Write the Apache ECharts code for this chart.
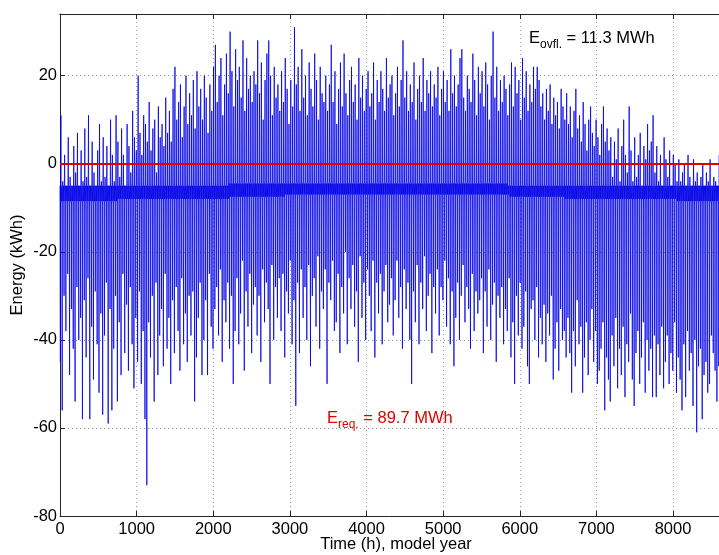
<!DOCTYPE html>
<html>
<head>
<meta charset="utf-8">
<script src="https://cdn.jsdelivr.net/npm/echarts@6/dist/echarts.min.js"></script>
<style>
html,body{margin:0;padding:0;background:#fff;}
#c{width:719px;height:555px;}
</style>
</head>
<body>
<div id="c"></div>
<script>
// ---- data ----
// x-axis ticks (h) and y-axis ticks (kWh)
const xTicks = [0,1000,2000,3000,4000,5000,6000,7000,8000];
const yTicks = [-80,-60,-40,-20,0,20];
// daily peak of surplus (upward spike), one value per day, kWh
const upPeaks = [
 11,-4,2,-5,6,-3,-5,4,-2,7,-5,3,
 -4,8,-3,11,-5,5,-2,-5,3,9,-4,6,
 -3,4,-5,10,2,-4,11,5,-3,8,2,-5,
 9,4,-2,12,6,3,20,7,2,11,9,5,
 14,3,8,10,-2,13,6,9,4,15,7,12,
 5,17,22,10,14,18,6,13,20,9,16,11,
 19,8,21,13,17,10,20,15,7,18,12,22,
 27,14,20,24,11,18,25,16,30,21,13,26,
 19,22,15,28,12,24,17,20,14,21,18,28,
 16,23,10,19,25,28,20,11,22,15,18,12,
 21,14,24,17,9,19,13,31,18,22,12,26,
 15,20,11,23,17,13,25,19,10,22,16,14,
 20,12,18,27,14,21,9,17,23,13,25,16,
 11,19,22,14,18,10,24,15,20,12,17,21,
 13,16,23,10,19,14,21,17,12,24,15,18,
 20,11,16,22,13,19,28,15,21,12,18,14,
 23,10,17,20,14,24,12,19,16,21,13,18,
 15,22,11,17,21,14,19,12,26,16,20,13,
 18,24,26,15,12,20,17,14,25,19,11,22,
 16,21,13,23,18,10,20,30,15,22,12,19,
 14,20,17,11,18,23,13,22,16,19,10,24,
 15,21,12,18,14,22,17,22,19,13,16,10,
 17,12,18,9,15,11,14,8,17,13,10,16,
 9,13,6,12,17,8,11,5,14,9,3,10,
 13,7,4,10,6,2,9,13,5,8,3,6,
 -3,5,1,8,-4,4,10,2,-2,13,3,-4,
 6,-3,2,7,-5,4,1,9,3,5,11,-2,
 4,-4,2,-5,6,1,-3,3,-5,2,0,-4,
 1,-4,-2,0,-5,2,-3,-5,1,-4,-2,-5,
 -3,0,-5,-2,-4,1,-5,-3,-4,-5,2
];
// daily deepest deficit (downward spike), one value per day, kWh
const downPeaks = [
 -45,-56,-30,-38,-25,-48,-33,-42,-54,-28,-40,-35,
 -58,-31,-44,-26,-58,-37,-49,-29,-41,-52,-34,-57,
 -39,-27,-59,-33,-56,-42,-30,-54,-36,-48,-25,-43,
 -32,-47,-28,-41,-51,-35,-45,-29,-50,-38,-58,-73,
 -36,-44,-30,-54,-27,-48,-39,-33,-46,-25,-42,-35,
 -50,-31,-43,-28,-38,-47,-26,-41,-34,-45,-30,-39,
 -29,-54,-44,-35,-27,-48,-40,-31,-48,-25,-37,-42,
 -33,-28,-39,-24,-45,-31,-36,-27,-42,-30,-50,-38,
 -26,-41,-34,-22,-47,-29,-37,-25,-43,-32,-28,-39,
 -30,-45,-24,-36,-27,-33,-50,-23,-40,-28,-35,-26,
 -38,-25,-44,-29,-34,-22,-41,-31,-55,-27,-43,-24,
 -35,-28,-40,-23,-46,-30,-26,-37,-21,-42,-29,-33,
 -24,-50,-27,-31,-22,-38,-36,-25,-43,-28,-34,-20,
 -41,-26,-33,-23,-37,-29,-45,-21,-35,-27,-40,-24,
 -30,-38,-22,-44,-27,-34,-25,-41,-29,-23,-36,-32,
 -26,-39,-31,-22,-35,-28,-42,-24,-33,-27,-40,-50,
 -29,-36,-23,-41,-27,-33,-21,-38,-30,-25,-43,-28,
 -34,-24,-39,-28,-31,-22,-37,-26,-41,-29,-46,-35,
 -27,-40,-30,-23,-36,-28,-33,-42,-25,-38,-29,-34,
 -31,-26,-43,-29,-37,-24,-40,-32,-27,-45,-30,-35,
 -28,-41,-33,-38,-26,-44,-36,-50,-30,-39,-27,-42,
 -37,-29,-46,-50,-33,-31,-40,-28,-44,-35,-41,-32,
 -45,-34,-39,-30,-49,-42,-36,-47,-33,-40,-38,-44,
 -35,-43,-52,-38,-46,-31,-41,-37,-52,-44,-36,-48,
 -40,-33,-45,-38,-50,-47,-42,-36,-56,-44,-49,-54,
 -39,-46,-35,-51,-42,-48,-37,-53,-41,-45,-34,-49,
 -55,-43,-38,-50,-44,-36,-52,-40,-47,-42,-53,-39,
 -53,-41,-48,-37,-51,-45,-39,-50,-43,-47,-36,-52,
 -44,-49,-56,-41,-53,-38,-47,-43,-55,-40,-61,-46,
 -42,-58,-48,-45,-52,-50,-39,-43,-47,-54,-46
];
// monthly upper / lower edge of the dense base band, kWh
const bandTop = [-5,-5,-5,-4.5,-4.5,-4.5,-4.5,-4.5,-5,-5,-5,-5,-5];
const bandBottom = [-8.5,-8,-8,-7.5,-7,-7,-7,-7,-7.5,-8,-8,-8.5,-8.5];
// hours of the day at which the daily profile is sampled, and which value they carry
const dayHours = [0,5,7,12,14,18];
const dayKinds = ['top','down','bottom','up','top','bottom'];
const refLevel = 0;            // red reference line
const hoursPerDay = 24, hoursPerMonth = 730;
const xMax = 8600, yMin = -80, yMax = 34;

// ---- build the hourly series from the arrays ----
const energy = [];
for (let d = 0; d < upPeaks.length; d++) {
  const h0 = d * hoursPerDay;
  const m = Math.floor(h0 / hoursPerMonth);
  for (let k = 0; k < dayHours.length; k++) {
    let v;
    switch (dayKinds[k]) {
      case 'top': v = bandTop[m]; break;
      case 'bottom': v = bandBottom[m]; break;
      case 'down': v = downPeaks[d]; break;
      case 'up': v = upPeaks[d]; break;
    }
    energy.push([h0 + dayHours[k], v]);
  }
}

const axisColor = '#262626';
const font = 'Liberation Sans, Arial, sans-serif';
const chart = echarts.init(document.getElementById('c'), null, {renderer: 'canvas'});
chart.setOption({
  animation: false,
  backgroundColor: '#fff',
  grid: {left: 60, right: 0, top: 14, bottom: 39, containLabel: false, outerBoundsMode: 'none'},
  xAxis: [{
    type: 'value', min: xTicks[0], max: xMax, interval: 1000,
    name: 'Time (h), model year', nameLocation: 'middle', nameGap: 20, nameMoveOverlap: false,
    nameTextStyle: {fontFamily: font, fontSize: 16.5, color: '#000', padding: [0,0,0,13]},
    axisLine: {show: true, onZero: false, lineStyle: {color: axisColor, width: 1}},
    axisTick: {show: true, inside: true, length: 5, lineStyle: {color: axisColor}},
    axisLabel: {fontFamily: font, fontSize: 16.5, color: '#000', margin: 5, showMaxLabel: false,
      formatter: v => xTicks.includes(v) ? String(v) : ''},
    splitLine: {show: true, lineStyle: {color: '#9a9a9a', type: [1, 3], width: 1}}
  }, {
    type: 'value', position: 'top', min: xTicks[0], max: xMax, interval: 1000,
    axisLine: {show: true, onZero: false, lineStyle: {color: axisColor, width: 1}},
    axisTick: {show: true, inside: true, length: 5, lineStyle: {color: axisColor}},
    axisLabel: {show: false}, splitLine: {show: false}
  }],
  yAxis: {
    type: 'value', min: yMin, max: yMax, interval: 20,
    name: 'Energy (kWh)', nameLocation: 'middle', nameGap: 34, nameRotate: 90, nameMoveOverlap: false,
    nameTextStyle: {fontFamily: font, fontSize: 16.5, color: '#000'},
    axisLine: {show: true, onZero: false, lineStyle: {color: axisColor, width: 1}},
    axisTick: {show: true, inside: true, length: 5, lineStyle: {color: axisColor}},
    axisLabel: {fontFamily: font, fontSize: 16.5, color: '#000', margin: 3, showMaxLabel: false,
      formatter: v => yTicks.includes(v) ? String(v) : ''},
    splitLine: {show: true, lineStyle: {color: '#9a9a9a', type: [1, 3], width: 1}}
  },
  series: [{
    type: 'line', data: energy, showSymbol: false, symbol: 'none',
    sampling: null, clip: true,
    lineStyle: {color: '#0000e8', width: 0.8},
    markLine: {
      silent: true, symbol: 'none', animation: false,
      label: {show: false},
      lineStyle: {color: '#e00000', width: 2, type: 'solid'},
      data: [{yAxis: refLevel}]
    }
  }],
  graphic: [{
    type: 'text', left: 529, top: 30,
    style: {
      text: '{e|E}{s|ovfl.}{e| = 11.3 MWh}',
      rich: {
        e: {fontFamily: font, fontSize: 16.5, fill: '#000'},
        s: {fontFamily: font, fontSize: 12, fill: '#000', padding: [12, 0, 0, 0]}
      }
    }
  }, {
    type: 'text', left: 327, top: 410,
    style: {
      text: '{e|E}{s|req.}{e| = 89.7 MWh}',
      rich: {
        e: {fontFamily: font, fontSize: 16.5, fill: '#e00000'},
        s: {fontFamily: font, fontSize: 12, fill: '#e00000', padding: [12, 0, 0, 0]}
      }
    }
  }]
});
</script>
</body>
</html>
